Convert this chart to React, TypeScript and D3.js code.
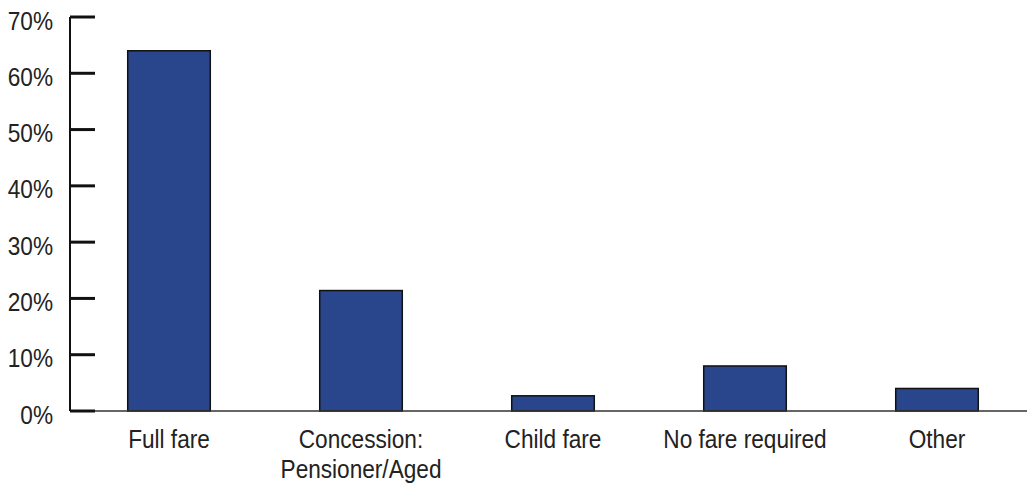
import React from 'react';
import * as d3 from 'd3';

// fare types and share of trips
const categories = ['Full fare', 'Concession:\nPensioner/Aged', 'Child fare', 'No fare required', 'Other'];
const shares = [64, 21.4, 2.7, 8, 4];
const yTicks = [0, 10, 20, 30, 40, 50, 60, 70];

const W = 1027;
const H = 485;
const font = '"Liberation Sans", Arial, sans-serif';
const squeeze = 0.87; // narrow face look

const App = () => {
  const x = d3.scaleBand<string>().domain(categories).range([73, 1033]).paddingInner(0.57).paddingOuter(0.285);
  const y = d3.scaleLinear().domain([0, 70]).range([411, 17]);
  const axisX = 70;

  return (
    <svg width={W} height={H} style={{ position: 'absolute', left: 0, top: 0, background: '#fff' }}>
      {/* bars */}
      {categories.map((c, i) => (
        <rect
          key={c}
          x={x(c)}
          y={y(shares[i])}
          width={x.bandwidth()}
          height={y(0) - y(shares[i])}
          fill="#29468c"
          stroke="#111"
          strokeWidth={1.5}
        />
      ))}

      {/* baseline */}
      <line x1={axisX} x2={W} y1={y(0)} y2={y(0)} stroke="#333" strokeWidth={1.5} />

      {/* y axis */}
      <line x1={axisX} x2={axisX} y1={y(70)} y2={y(0)} stroke="#111" strokeWidth={2} />
      {yTicks.map((t) => (
        <g key={t}>
          <line x1={axisX} x2={axisX + 25} y1={y(t)} y2={y(t)} stroke="#111" strokeWidth={3} />
          <g transform={`translate(53,${y(t) + 12.5}) scale(${squeeze},1)`}>
            <text textAnchor="end" fontFamily={font} fontSize={26} fill="#222">
              {t}%
            </text>
          </g>
        </g>
      ))}

      {/* category labels */}
      {categories.map((c) => (
        <g key={c} transform={`translate(${(x(c) as number) + x.bandwidth() / 2},448) scale(${squeeze},1)`}>
          <text textAnchor="middle" fontFamily={font} fontSize={26} fill="#222">
            {c.split('\n').map((line, j) => (
              <tspan key={j} x={0} dy={j === 0 ? 0 : 30}>
                {line}
              </tspan>
            ))}
          </text>
        </g>
      ))}
    </svg>
  );
};

export default App;
